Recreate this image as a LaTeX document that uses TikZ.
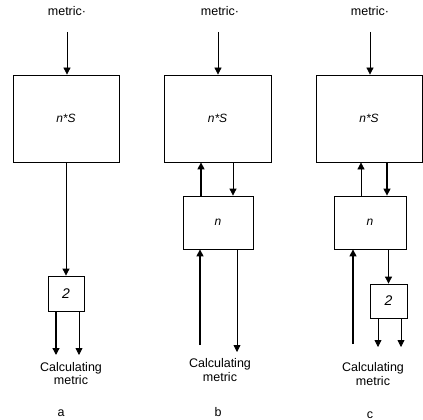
\documentclass[tikz,border=0pt]{standalone}
\usepackage{fontspec}
\setmainfont{Liberation Sans}
\usetikzlibrary{arrows.meta}
\begin{document}
\begin{tikzpicture}[x=1pt,y=-1pt,
  box/.style={draw, line width=0.8pt, inner sep=0pt, font=\fontsize{12}{13}\selectfont\itshape},
  twobox/.style={box, font=\fontsize{14}{15}\selectfont\itshape},
  lbl/.style={inner sep=0pt, align=center, font=\fontsize{12.5}{13.5}\selectfont},
  flow/.style={line width=0.8pt, -{Triangle[length=7pt,width=7pt]}},
  heavy/.style={line width=1.3pt, -{Triangle[length=7pt,width=7pt]}}]
\useasboundingbox (0,0) rectangle (423,420);

% ---- a ----
\node[lbl] (ma) at (67,11) {metric·};
\coordinate (ia) at (67,32);
\node[box, minimum width=106pt, minimum height=87pt] (Sa) at (66,118.5) {n*S};
\node[twobox, minimum width=36pt, minimum height=35pt] (ta) at (66,293.5) {2};
\coordinate (oa1) at (56,355);
\coordinate (oa2) at (79,355);
\draw[flow] (ia) -- (ia |- Sa.north);
\draw[flow] (Sa.south) -- (ta.north);
\draw[heavy] (ta.south -| oa1) -- (oa1);
\draw[flow] (ta.south -| oa2) -- (oa2);
\node[lbl] (ca) at (71,373.5) {Calculating\\metric};
\node[lbl] (la) at (61,413) {a};

% ---- b ----
\node[lbl] (mb) at (220,11) {metric·};
\coordinate (ib) at (218,32);
\node[box, minimum width=107pt, minimum height=87pt] (Sb) at (217.5,118.5) {n*S};
\node[box, minimum width=70pt, minimum height=53pt] (nb) at (218,222.5) {n};
\coordinate (ub) at (201,0);
\coordinate (db) at (233,0);
\coordinate (inb) at (200,345);
\coordinate (outb) at (237,352);
\draw[flow] (ib) -- (ib |- Sb.north);
\draw[heavy] (ub |- nb.north) -- (ub |- Sb.south);
\draw[flow] (db |- Sb.south) -- (db |- nb.north);
\draw[heavy] (inb) -- (inb |- nb.south);
\draw[flow] (outb |- nb.south) -- (outb);
\node[lbl] (cb) at (220,370) {Calculating\\metric};
\node[lbl] (lb) at (218,412) {b};

% ---- c ----
\node[lbl] (mc) at (370,11) {metric·};
\coordinate (ic) at (370,32);
\node[box, minimum width=106pt, minimum height=87pt] (Sc) at (369,118.5) {n*S};
\node[box, minimum width=72pt, minimum height=53pt] (nc) at (370,222.5) {n};
\node[twobox, minimum width=37pt, minimum height=34pt] (tc) at (388.5,301) {2};
\coordinate (uc) at (361,0);
\coordinate (dc) at (387,0);
\coordinate (inc) at (353,344);
\coordinate (oc1) at (378,347);
\coordinate (oc2) at (401,347);
\draw[flow] (ic) -- (ic |- Sc.north);
\draw[flow] (uc |- nc.north) -- (uc |- Sc.south);
\draw[heavy] (dc |- Sc.south) -- (dc |- nc.north);
\draw[heavy] (inc) -- (inc |- nc.south);
\draw[flow] (nc.south -| tc.north) -- (tc.north);
\draw[flow] (tc.south -| oc1) -- (oc1);
\draw[flow] (tc.south -| oc2) -- (oc2);
\node[lbl] (cc) at (373,374) {Calculating\\metric};
\node[lbl] (lc) at (370,415) {c};
\end{tikzpicture}
\end{document}
